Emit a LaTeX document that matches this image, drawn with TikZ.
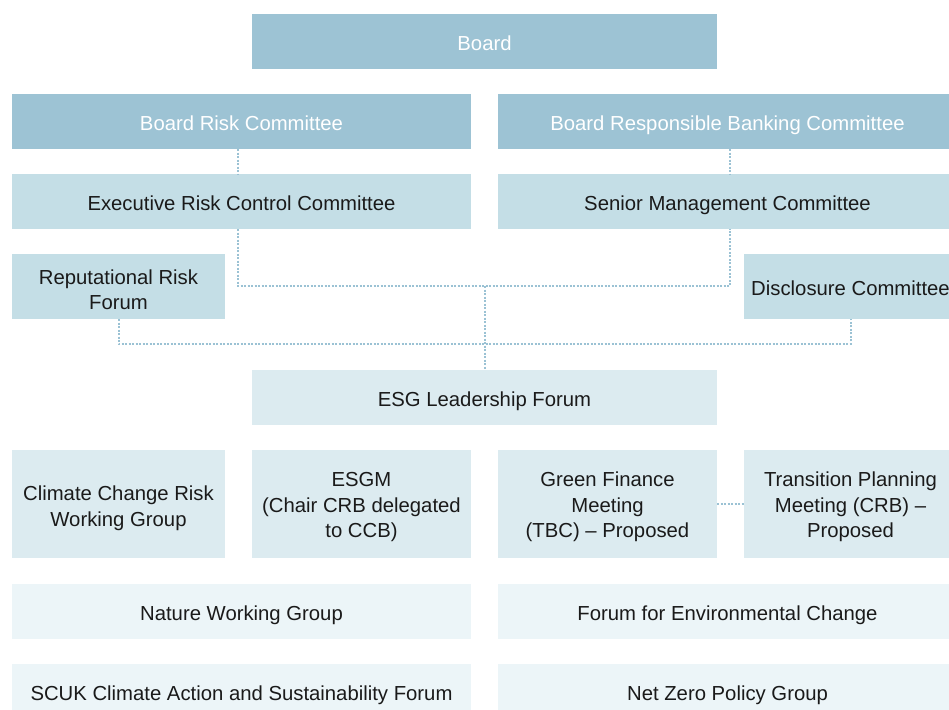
\documentclass[tikz,border=0pt]{standalone}
\usepackage{fontspec}
\setmainfont{Liberation Sans}
\definecolor{tierA}{HTML}{9DC3D4}
\definecolor{tierB}{HTML}{C4DEE6}
\definecolor{tierC}{HTML}{DCEBF0}
\definecolor{tierD}{HTML}{ECF5F8}
\definecolor{linkcol}{HTML}{9BC2D4}
\definecolor{inkcol}{HTML}{1A1A1A}
\begin{document}
\begin{tikzpicture}[x=1pt,y=-1pt,
    box/.style={rectangle, inner sep=0pt, align=center, text=inkcol,
      font=\fontsize{20.3}{25.5}\selectfont, text height=17pt, text depth=0pt},
    lines/.style={text height=#1},
    boardbox/.style={box, fill=tierA, text=white},
    execbox/.style={box, fill=tierB},
    forumbox/.style={box, fill=tierC},
    groupbox/.style={box, fill=tierD},
    link/.style={draw=linkcol, line width=2pt, dash pattern=on 2pt off 1.5pt}]
  \useasboundingbox (0,0) rectangle (949,709);
  \clip (0,0) rectangle (949,709);
  % boards
  \node[boardbox, minimum width=465, minimum height=55] (board) at (484.5,41.5) {Board};
  \node[boardbox, minimum width=459, minimum height=55] (brc) at (241.5,121.5) {Board Risk Committee};
  \node[boardbox, minimum width=459, minimum height=55] (brbc) at (727.5,121.5) {Board Responsible Banking Committee};
  % executive committees
  \node[execbox, minimum width=459, minimum height=55] (ercc) at (241.5,201.5) {Executive Risk Control Committee};
  \node[execbox, minimum width=459, minimum height=55] (smc) at (727.5,201.5) {Senior Management Committee};
  \node[execbox, lines=46pt, minimum width=213, minimum height=65] (rrf) at (118.5,286.5) {Reputational Risk\\Forum};
  \node[execbox, minimum width=213, minimum height=65] (disc) at (850.5,286.5) {Disclosure Committee};
  % forums
  \node[forumbox, minimum width=465, minimum height=55] (esglf) at (484.5,397.5) {ESG Leadership Forum};
  \node[forumbox, lines=44pt, minimum width=213, minimum height=108] (ccrwg) at (118.5,504) {Climate Change Risk\\Working Group};
  \node[forumbox, lines=67pt, minimum width=219, minimum height=108] (esgm) at (361.5,504) {ESGM\\(Chair CRB delegated\\to CCB)};
  \node[forumbox, lines=67pt, minimum width=219, minimum height=108] (gfm) at (607.5,504) {Green Finance\\Meeting\\(TBC) -- Proposed};
  \node[forumbox, lines=67pt, minimum width=213, minimum height=108] (tpm) at (850.5,504) {Transition Planning\\Meeting (CRB) --\\Proposed};
  % groups
  \node[groupbox, minimum width=459, minimum height=55] (nwg) at (241.5,611.5) {Nature Working Group};
  \node[groupbox, minimum width=459, minimum height=55] (fec) at (727.5,611.5) {Forum for Environmental Change};
  \node[groupbox, minimum width=459, minimum height=55] (scuk) at (241.5,691.5) {SCUK Climate Action and Sustainability Forum};
  \node[groupbox, minimum width=459, minimum height=55] (nzpg) at (727.5,691.5) {Net Zero Policy Group};
  % dotted reporting lines
  \coordinate (upper) at (484.5,286);
  \coordinate (lower) at (484.5,344);
  \draw[link] ([xshift=-3.5pt]brc.south) -- ([xshift=-3.5pt]ercc.north);
  \draw[link] ([xshift=2.5pt]brbc.south) -- ([xshift=2.5pt]smc.north);
  \draw[link] ([xshift=-3.5pt]ercc.south) |- (upper) -| ([xshift=2.5pt]smc.south);
  \draw[link] (upper) -- (esglf.north);
  \draw[link] (rrf.south) |- (lower) -| (disc.south);
  \draw[link] (gfm) -- (tpm);
\end{tikzpicture}
\end{document}
